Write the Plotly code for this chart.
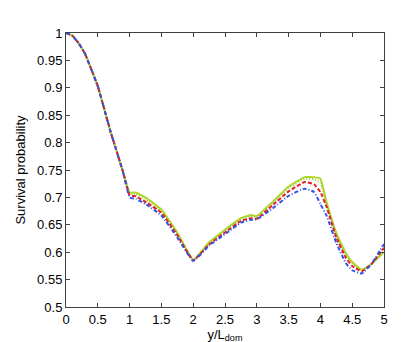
import plotly.graph_objects as go

# y/L_dom positions
x = [0, 0.1, 0.2, 0.3, 0.4, 0.5, 0.6, 0.7, 0.8, 0.9, 1.0, 1.1, 1.25, 1.5, 1.75,
     2.0, 2.25, 2.5, 2.75, 2.9, 3.0, 3.25, 3.5, 3.75, 3.9, 4.0, 4.1, 4.25, 4.4,
     4.5, 4.65, 4.8, 5.0]

head = [1.0, 0.995, 0.981, 0.962, 0.933, 0.903, 0.862, 0.82, 0.783, 0.745]

green_solid = head + [0.709, 0.709, 0.700, 0.678, 0.636, 0.586, 0.618, 0.641, 0.662,
                      0.668, 0.666, 0.692, 0.720, 0.737, 0.737, 0.734, 0.690, 0.635,
                      0.598, 0.582, 0.568, 0.578, 0.600]
green_dot = head + [0.707, 0.706, 0.697, 0.675, 0.634, 0.586, 0.616, 0.639, 0.660,
                    0.666, 0.664, 0.690, 0.717, 0.734, 0.733, 0.727, 0.687, 0.632,
                    0.596, 0.580, 0.567, 0.578, 0.603]
red_dash = head + [0.704, 0.702, 0.692, 0.672, 0.631, 0.585, 0.614, 0.636, 0.657,
                   0.662, 0.661, 0.686, 0.711, 0.728, 0.724, 0.710, 0.682, 0.627,
                   0.590, 0.575, 0.565, 0.578, 0.608]
blue_dashdot = head + [0.700, 0.697, 0.688, 0.667, 0.627, 0.584, 0.612, 0.633, 0.654,
                       0.659, 0.660, 0.680, 0.703, 0.716, 0.710, 0.688, 0.666, 0.617,
                       0.580, 0.567, 0.561, 0.578, 0.615]

fig = go.Figure()
series = [
    (green_solid, "rgb(175,215,40)", "solid"),
    (green_dot, "rgb(150,205,60)", "1px,2px"),
    (red_dash, "rgb(230,30,30)", "4px,2px"),
    (blue_dashdot, "rgb(50,80,235)", "4px,2px,1px,2px"),
]
for ys, col, dash in series:
    fig.add_trace(go.Scatter(x=x, y=ys, mode="lines",
                             line=dict(color=col, dash=dash, width=2,
                                       shape="spline", smoothing=0.3),
                             showlegend=False))

axis_common = dict(showgrid=False, zeroline=False, showline=True, linecolor="#404040",
                   linewidth=1, mirror="ticks", ticks="inside", ticklen=4,
                   tickcolor="#404040", tickfont=dict(size=13, color="black"))

fig.update_layout(
    width=415, height=342,
    margin=dict(l=54, r=39, t=25, b=39),
    paper_bgcolor="white", plot_bgcolor="white",
    font=dict(family="Liberation Sans, Arial, sans-serif", color="black", size=13),
    xaxis=dict(range=[0, 5], tickvals=[0, 0.5, 1, 1.5, 2, 2.5, 3, 3.5, 4, 4.5, 5],
               ticktext=["0", "0.5", "1", "1.5", "2", "2.5", "3", "3.5", "4", "4.5", "5"],
               title=dict(text="y/L<sub>dom</sub>", font=dict(size=13), standoff=2),
               **axis_common),
    yaxis=dict(range=[0.5, 1], tickvals=[0.5, 0.55, 0.6, 0.65, 0.7, 0.75, 0.8, 0.85, 0.9, 0.95, 1],
               ticktext=["0.5", "0.55", "0.6", "0.65", "0.7", "0.75", "0.8", "0.85", "0.9", "0.95", "1"],
               title=dict(text="Survival probability", font=dict(size=13), standoff=8),
               **axis_common),
)

fig.write_html("out.html")
